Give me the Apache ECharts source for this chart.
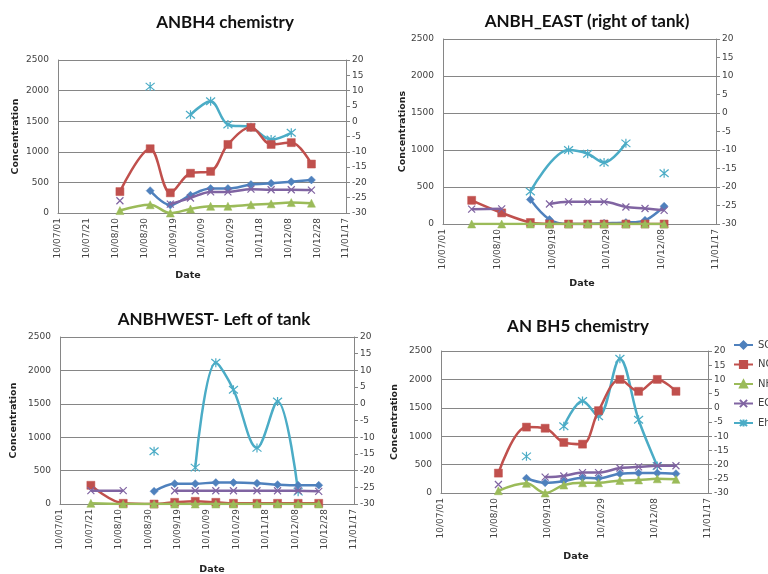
<!DOCTYPE html>
<html>
<head>
<meta charset="utf-8">
<script src="https://cdn.jsdelivr.net/npm/echarts@6/dist/echarts.min.js"></script>
<style>
  html, body { margin: 0; padding: 0; background: #fff; }
  #chart { width: 768px; height: 574px; }
</style>
</head>
<body>
<div id="chart"></div>
<script>
// sampling dates (shared by the four boreholes)
const dates = ['2010-07-22', '2010-08-13', '2010-09-03', '2010-09-17', '2010-10-01', '2010-10-15',
  '2010-10-27', '2010-11-12', '2010-11-26', '2010-12-10', '2010-12-24'];

// ANBH4 chemistry
const bh4SO4 = [null, null, 365, 130, 290, 400, 400, 465, 485, 510, 540];
const bh4NO3 = [null, 350, 1050, 330, 650, 680, 1120, 1400, 1120, 1150, 800];
const bh4NH4 = [null, 40, 135, 0, 65, 110, 110, 135, 150, 170, 160];
const bh4EC = [null, 200, null, 145, 245, 345, 345, 390, 380, 380, 375];
const bh4Eh = [null, null, 11.3, null, 2.1, 6.5, -1.1, -2, -6, -3.8, null];

// ANBH_EAST
const eastSO4 = [null, null, 330, 60, 0, 0, 10, 20, 50, 240, null];
const eastNO3 = [320, 150, 20, 0, 0, 0, 0, 0, 0, 0, null];
const eastNH4 = [0, 0, 0, 0, 0, 0, 0, 0, 0, 0, null];
const eastEC = [200, 205, null, 270, 300, 300, 300, 230, 210, 185, null];
const eastEhDates = ['2010-09-03', '2010-10-01', '2010-10-15', '2010-10-27', '2010-11-12', '2010-11-26', '2010-12-10'];
const eastEh = [-21.2, -10, -11, -13.4, -8.2, null, -16.3];

// ANBHWEST
const westSO4 = [null, null, 190, 305, 305, 320, 320, 310, 290, 280, 280];
const westNO3 = [280, 10, 0, 25, 40, 25, 10, 10, 10, 10, 10];
const westNH4 = [10, 0, 0, 0, 0, 0, 0, 0, 0, 0, 0];
const westEC = [200, 200, null, 198, 198, 198, 198, 198, 198, 198, 190];
const westEh = [null, null, -14.2, null, -19.1, 12.3, 4.2, -13.2, 0.7, -26.3, null];

// AN BH5 chemistry
const bh5SO4 = [null, null, 260, 180, 210, 270, 260, 340, 350, 350, 340];
const bh5NO3 = [null, 350, 1160, 1140, 890, 860, 1450, 2000, 1790, 2000, 1790];
const bh5NH4 = [null, 40, 170, 0, 140, 180, 180, 220, 230, 250, 240];
const bh5EC = [null, 150, null, 280, 300, 360, 360, 440, 460, 480, 480];
const bh5Eh = [null, null, -17.1, null, -6.5, 2.4, -3, 17.3, -4.2, -20.5, null];

// axis ticks
const leftTicks = [0, 500, 1000, 1500, 2000, 2500];
const rightTicks = [-30, -25, -20, -15, -10, -5, 0, 5, 10, 15, 20];
const xStart = '2010-07-01';
const xEnd = '2011-01-17';

const names = ['SO4', 'NO3', 'NH4', 'EC', 'Eh'];
const colors = ['#4F81BD', '#C0504D', '#9BBB59', '#8064A2', '#4BACC6'];
const symbols = ['diamond', 'rect', 'triangle',
  'path://M0,0L10,10M10,0L0,10',
  'path://M0,0L10,10M10,0L0,10M5,-1L5,11'];
const symbolSizes = [8, 8, 8, 7, 9];

const panels = [
  { title: 'ANBH4 chemistry', yName: 'Concentration', step: 20,
    grid: { left: 58, top: 60, width: 288, height: 153 }, nameGap: 37,
    titleAt: [225, 23], dateAt: [188, 276],
    data: [[dates, bh4SO4], [dates, bh4NO3], [dates, bh4NH4], [dates, bh4EC], [dates, bh4Eh]] },
  { title: 'ANBH_EAST (right of tank)', yName: 'Concentrations', step: 40,
    grid: { left: 443, top: 39, width: 273, height: 185 }, nameGap: 31,
    titleAt: [587, 22], dateAt: [582, 284],
    data: [[dates, eastSO4], [dates, eastNO3], [dates, eastNH4], [dates, eastEC], [eastEhDates, eastEh]] },
  { title: 'ANBHWEST- Left of tank', yName: 'Concentration', step: 20,
    grid: { left: 60, top: 337, width: 294, height: 167 }, nameGap: 41,
    titleAt: [214, 320], dateAt: [212, 570],
    data: [[dates, westSO4], [dates, westNO3], [dates, westNH4], [dates, westEC], [dates, westEh]] },
  { title: 'AN BH5 chemistry', yName: 'Concentration', step: 40,
    grid: { left: 441, top: 351, width: 267, height: 142 }, nameGap: 41,
    titleAt: [578, 327], dateAt: [576, 557],
    data: [[dates, bh5SO4], [dates, bh5NO3], [dates, bh5NH4], [dates, bh5EC], [dates, bh5Eh]] }
];

const origin = Date.UTC(2010, 6, 1);
function dayOf(s) {
  const p = s.split('-');
  return (Date.UTC(+p[0], +p[1] - 1, +p[2]) - origin) / 864e5;
}
function fmtDay(v) {
  const d = new Date(origin + v * 864e5);
  const p = n => String(n).padStart(2, '0');
  return p(d.getUTCFullYear() % 100) + '/' + p(d.getUTCMonth() + 1) + '/' + p(d.getUTCDate());
}

const gray = '#868686';
const labelFont = { fontFamily: 'DejaVu Sans', fontSize: 9, color: '#404040' };

const grid = [], xAxis = [], yAxis = [], series = [], graphic = [];
panels.forEach((pn, i) => {
  grid.push(pn.grid);
  xAxis.push({
    type: 'value', gridIndex: i, min: dayOf(xStart), max: dayOf(xEnd), interval: pn.step,
    axisLine: { lineStyle: { color: gray } },
    axisTick: { show: false },
    splitLine: { show: false },
    axisLabel: Object.assign({ rotate: 90, margin: 5, formatter: fmtDay }, labelFont)
  });
  yAxis.push({
    type: 'value', gridIndex: i, position: 'left',
    min: leftTicks[0], max: leftTicks[leftTicks.length - 1], interval: leftTicks[1] - leftTicks[0],
    name: pn.yName, nameLocation: 'middle', nameGap: pn.nameGap,
    nameTextStyle: { fontFamily: 'DejaVu Sans', fontWeight: 'bold', fontSize: 9.5, color: '#222' },
    axisLine: { show: true, lineStyle: { color: gray } },
    axisTick: { show: false },
    splitLine: { lineStyle: { color: gray } },
    axisLabel: Object.assign({ margin: 9, formatter: v => String(v) }, labelFont)
  });
  yAxis.push({
    type: 'value', gridIndex: i, position: 'right',
    min: rightTicks[0], max: rightTicks[rightTicks.length - 1], interval: rightTicks[1] - rightTicks[0],
    axisLine: { show: true, lineStyle: { color: gray } },
    axisTick: { show: true, length: 4, lineStyle: { color: gray } },
    splitLine: { show: false },
    axisLabel: Object.assign({ margin: 6, formatter: v => String(v) }, labelFont)
  });
  pn.data.forEach(([ds, vals], k) => {
    series.push({
      name: names[k], type: 'line', xAxisIndex: i, yAxisIndex: k === 4 ? 2 * i + 1 : 2 * i,
      data: ds.map((d, j) => [dayOf(d), vals[j] == null ? '-' : vals[j]]),
      smooth: 0.35, connectNulls: false,
      symbol: symbols[k], symbolSize: symbolSizes[k], showAllSymbol: true,
      lineStyle: { color: colors[k], width: 2.5 },
      itemStyle: { color: colors[k], borderColor: colors[k], borderWidth: k >= 3 ? 1.2 : 0.5 },
      emphasis: { disabled: true },
      z: k === 4 ? 1 : 2 + k
    });
  });
  graphic.push({
    type: 'text', x: pn.titleAt[0], y: pn.titleAt[1],
    style: { text: pn.title, font: 'bold 17px Lato', fill: '#111', align: 'center', verticalAlign: 'middle',
      textAlign: 'center', textVerticalAlign: 'middle' }
  });
  graphic.push({
    type: 'text', x: pn.dateAt[0], y: pn.dateAt[1],
    style: { text: 'Date', font: 'bold 9.5px "DejaVu Sans"', fill: '#222', align: 'center', verticalAlign: 'middle',
      textAlign: 'center', textVerticalAlign: 'middle' }
  });
});

const myChart = echarts.init(document.getElementById('chart'));
myChart.setOption({
  animation: false,
  backgroundColor: '#fff',
  grid, xAxis, yAxis, series, graphic,
  legend: {
    data: names, orient: 'vertical', left: 733, top: 340, padding: 0,
    itemWidth: 19, itemHeight: 9, itemGap: 9.5,
    textStyle: { fontFamily: 'DejaVu Sans', fontSize: 10, color: '#404040' }
  }
});
</script>
</body>
</html>
